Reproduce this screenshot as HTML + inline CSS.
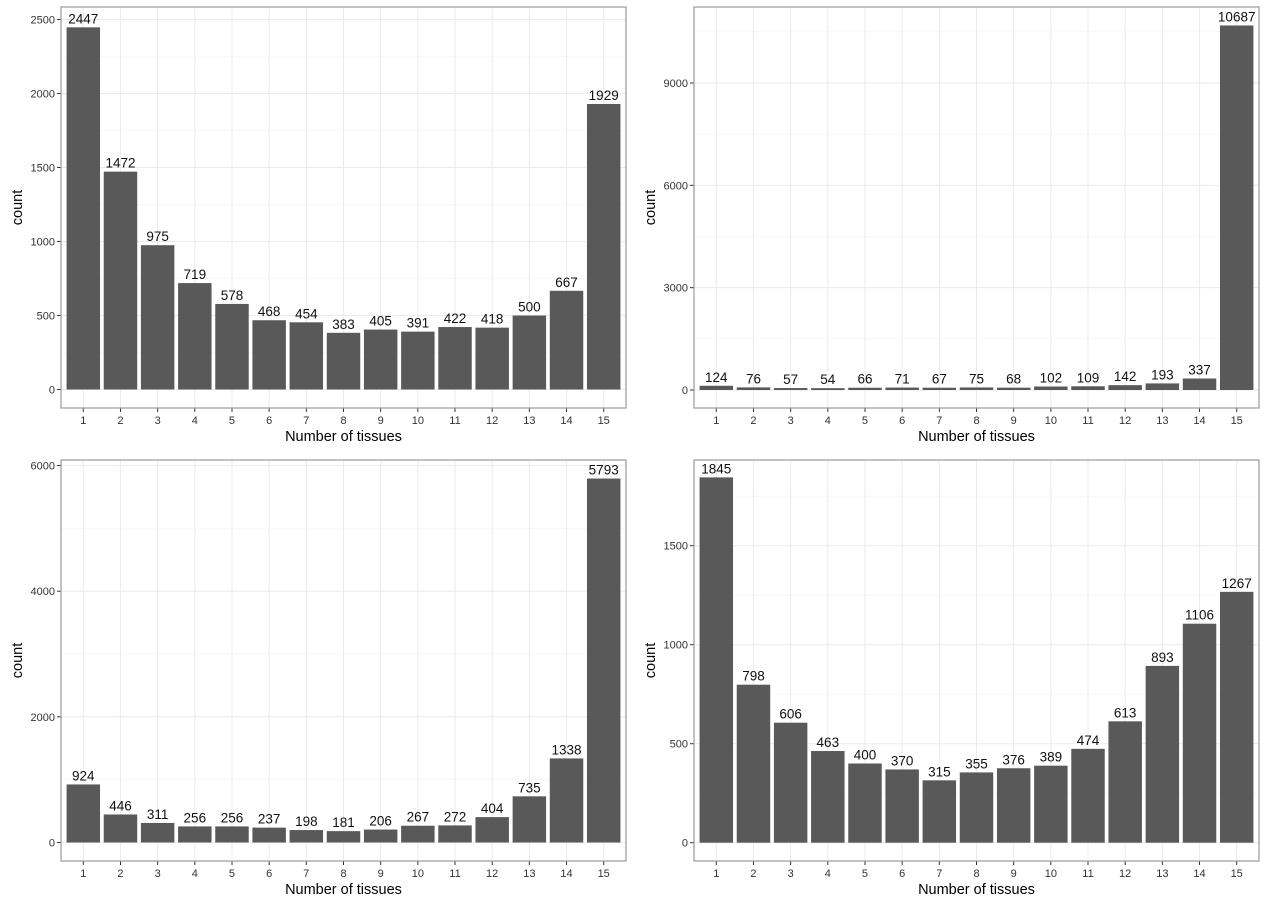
<!DOCTYPE html>
<html><head><meta charset="utf-8"><style>
body{margin:0;background:#fff;}
svg{display:block;font-family:"Liberation Sans",Arial,sans-serif;}
</style></head><body>
<svg id="c" width="1267" height="904"></svg>
<script>
const categories=[1,2,3,4,5,6,7,8,9,10,11,12,13,14,15];
const valuesA=[2447,1472,975,719,578,468,454,383,405,391,422,418,500,667,1929];
const valuesB=[124,76,57,54,66,71,67,75,68,102,109,142,193,337,10687];
const valuesC=[924,446,311,256,256,237,198,181,206,267,272,404,735,1338,5793];
const valuesD=[1845,798,606,463,400,370,315,355,376,389,474,613,893,1106,1267];
const ticksA=[0,500,1000,1500,2000,2500];
const ticksB=[0,3000,6000,9000];
const ticksC=[0,2000,4000,6000];
const ticksD=[0,500,1000,1500];
const NS="http://www.w3.org/2000/svg";
const svg=document.getElementById('c');
function mk(tag,attrs,parent){const e=document.createElementNS(NS,tag);for(const k in attrs)e.setAttribute(k,attrs[k]);(parent||svg).appendChild(e);return e;}
const panels=[
 {name:'panel-top-left',vals:valuesA,ticks:ticksA,x0:61,x1:626,y0:7,y1:408,zero:389.5,scale:0.148},
 {name:'panel-top-right',vals:valuesB,ticks:ticksB,x0:694,x1:1259,y0:7,y1:408,zero:390,scale:0.03411},
 {name:'panel-bottom-left',vals:valuesC,ticks:ticksC,x0:61,x1:626,y0:460,y1:861,zero:842.5,scale:0.06283},
 {name:'panel-bottom-right',vals:valuesD,ticks:ticksD,x0:694,x1:1259,y0:460,y1:861,zero:842.7,scale:0.198}
];
panels.forEach(p=>{
 const g=mk('g',{});
 
 
 const step=(p.x1-p.x0)/(categories.length+0.2);
 const xc=i=>p.x0+step*(0.6+i);
 const yv=v=>p.zero-v*p.scale;
 // minor grid
 for(let k=0;k<p.ticks.length;k++){
  const mv=p.ticks[k]+(p.ticks[1]-p.ticks[0])/2;const y=yv(mv);
  if(y>p.y0){const l=mk('line',{x1:p.x0,x2:p.x1,y1:y,y2:y,stroke:'#f3f3f3','stroke-width':0.6},g);
  }
 }
 p.ticks.forEach(t=>{
  const y=yv(t);
  const l=mk('line',{x1:p.x0,x2:p.x1,y1:y,y2:y,stroke:'#ebebeb','stroke-width':1},g);
  
  const tk=mk('line',{x1:p.x0-4,x2:p.x0,y1:y,y2:y,stroke:'#333','stroke-width':1},g);
  
  const tx=mk('text',{x:p.x0-6,y:y+4,'text-anchor':'end','font-size':11,fill:'#333'},g);
  tx.textContent=t;
  
 });
 categories.forEach((c,i)=>{
  const x=xc(i);
  const l=mk('line',{x1:x,x2:x,y1:p.y0,y2:p.y1,stroke:'#ebebeb','stroke-width':1},g);
  
 });
 p.vals.forEach((v,i)=>{
  const x=xc(i),w=step*0.9;
  const r=mk('rect',{x:x-w/2,y:yv(v),width:w,height:v*p.scale,fill:'#595959'},g);
  
  const t=mk('text',{x:x,y:yv(v)-4,'text-anchor':'middle','font-size':13.5,fill:'#111'},g);
  t.textContent=v;
  
  const tk=mk('line',{x1:x,x2:x,y1:p.y1,y2:p.y1+4,stroke:'#333','stroke-width':1},g);
  
  const tl=mk('text',{x:x,y:p.y1+16,'text-anchor':'middle','font-size':11,fill:'#333'},g);
  tl.textContent=categories[i];
  
 });
 const b=mk('rect',{x:p.x0,y:p.y0,width:p.x1-p.x0,height:p.y1-p.y0,fill:'none',stroke:'#999','stroke-width':1.2},g);
 
 const xt=mk('text',{x:(p.x0+p.x1)/2,y:p.y1+33,'text-anchor':'middle','font-size':14.5,fill:'#000'},g);
 xt.textContent='Number of tissues';
 
 const ymid=(p.y0+p.y1)/2, xx=p.x0-39;
 const yt=mk('text',{x:xx,y:ymid,'text-anchor':'middle','font-size':14.5,fill:'#000',transform:`rotate(-90 ${xx} ${ymid})`},g);
 yt.textContent='count';
 
});
</script>
</body></html>
